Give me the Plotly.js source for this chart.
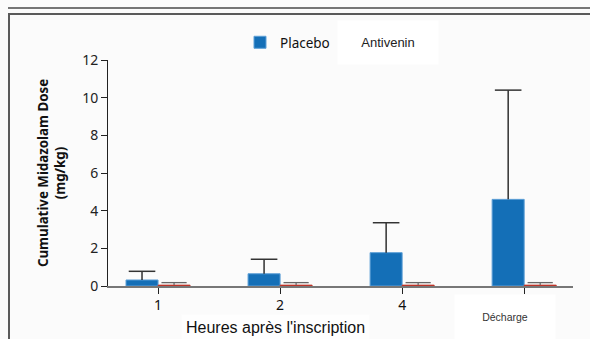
<!DOCTYPE html>
<html><head><meta charset="utf-8">
<script src="https://cdn.plot.ly/plotly-3.0.1.min.js"></script>
<style>html,body{margin:0;padding:0;background:#fbfbfb;}#c{width:590px;height:339px;}</style>
</head><body><div id="c"></div>
<script>
const categories = ["1", "2", "4", "Décharge"];
const tickLabels = ["1", "2", "4", ""];
const placebo = [0.32, 0.65, 1.77, 4.6];
const placeboErr = [0.46, 0.77, 1.59, 5.8];
const antivenin = [0.05, 0.05, 0.05, 0.05];
const antiveninErr = [0.13, 0.13, 0.13, 0.13];

const L = 108, R = 17, T = 60, B = 53, W = 590 - L - R, H = 339 - T - B;
const px = x => (x - L) / W;
const py = y => (339 - B - y) / H;

const XR = [-0.41, 3.4];
const BARGAP = 0.475;
const half = (1 - BARGAP) / 4; // offset of each bar centre from the category centre

// stems (value -> value + error) and caps, drawn on category axes shifted to each bar's centre
function stems(vals, errs) {
  const x = [], y = [];
  categories.forEach((c, i) => { x.push(c, c, null); y.push(vals[i], vals[i] + errs[i], null); });
  return {x, y};
}
const ps = stems(placebo, placeboErr), as = stems(antivenin, antiveninErr);

const traces = [
  {type: 'bar', name: 'Placebo', x: categories, y: placebo,
   marker: {color: '#146fb7', line: {color: '#5d9fd6', width: 1}}},
  {type: 'bar', name: 'Antivenin', x: categories, y: antivenin, showlegend: false,
   marker: {color: '#b8312a', line: {color: '#c0392b', width: 0.8}}},
  {type: 'scatter', mode: 'lines', xaxis: 'x2', x: ps.x, y: ps.y, showlegend: false,
   line: {color: '#111', width: 1.3}},
  {type: 'scatter', mode: 'markers', xaxis: 'x2', x: categories, y: placebo.map((v, i) => v + placeboErr[i]),
   showlegend: false, marker: {symbol: 'line-ew', size: 19, line: {color: '#333', width: 1.5}}},
  {type: 'scatter', mode: 'lines', xaxis: 'x3', x: as.x, y: as.y, showlegend: false,
   line: {color: '#666', width: 1.2}},
  {type: 'scatter', mode: 'markers', xaxis: 'x3', x: categories, y: antivenin.map((v, i) => v + antiveninErr[i]),
   showlegend: false, marker: {symbol: 'line-ew', size: 18, line: {color: '#666', width: 1.3}}}
];

const hiddenAxis = shift => ({type: 'category', overlaying: 'x', range: [XR[0] - shift, XR[1] - shift],
  categoryorder: 'array', categoryarray: categories, visible: false, showgrid: false, zeroline: false});

const layout = {
  width: 590, height: 339,
  margin: {l: L, r: R, t: T, b: B, pad: 0},
  paper_bgcolor: '#fbfbfb', plot_bgcolor: '#fbfbfb',
  barmode: 'group', bargap: BARGAP, bargroupgap: 0,
  font: {family: 'Noto Sans, sans-serif', color: '#222', size: 14},
  showlegend: true,
  legend: {orientation: 'h', x: px(240), xanchor: 'left', y: py(27), yanchor: 'top',
           bgcolor: 'rgba(0,0,0,0)', font: {size: 13.5, family: 'Noto Sans, sans-serif', color: '#111'}},
  xaxis: {type: 'category', range: XR, showline: true, linecolor: '#777', linewidth: 1.5,
          categoryorder: 'array', categoryarray: categories,
          ticks: 'outside', ticklen: 6, tickcolor: '#222', tickwidth: 1,
          tickvals: categories, ticktext: tickLabels, showgrid: false, zeroline: false,
          tickfont: {size: 14, color: '#111'}},
  xaxis2: hiddenAxis(-half),
  xaxis3: hiddenAxis(half),
  yaxis: {range: [0, 12], tickvals: [0, 2, 4, 6, 8, 10, 12], showline: true, linecolor: '#222', linewidth: 1,
          ticks: 'outside', ticklen: 6, tickcolor: '#222', showgrid: false, zeroline: false,
          tickfont: {size: 14, color: '#222'},
          title: {text: '<b>Cumulative Midazolam Dose</b><br><b>(mg/kg)</b>', standoff: 13,
                  font: {size: 13.3, color: '#111', family: 'Noto Sans, sans-serif'}}},
  shapes: [
    {type: 'line', xref: 'paper', yref: 'paper', x0: px(8), x1: px(590), y0: py(8), y1: py(8),
     line: {color: '#4a4a4a', width: 1.5}},
    {type: 'line', xref: 'paper', yref: 'paper', x0: px(8), x1: px(590), y0: py(14), y1: py(14),
     line: {color: '#5a5a5a', width: 2}},
    {type: 'line', xref: 'paper', yref: 'paper', x0: px(9), x1: px(9), y0: py(13), y1: py(339),
     line: {color: '#5a5a5a', width: 2}}
  ],
  annotations: [
    {xref: 'paper', yref: 'paper', x: px(388), y: py(42), text: 'Antivenin', showarrow: false,
     font: {family: 'Arial, Liberation Sans, sans-serif', size: 13, color: '#222'},
     bgcolor: '#ffffff', borderpad: 14, xanchor: 'center', yanchor: 'middle', width: 72},
    {xref: 'paper', yref: 'paper', x: px(505), y: py(317), text: 'Décharge', showarrow: false,
     font: {family: 'Arial, Liberation Sans, sans-serif', size: 10.5, color: '#333'},
     bgcolor: '#ffffff', borderpad: 10, width: 80, height: 24, xanchor: 'center', yanchor: 'middle'},
    {xref: 'paper', yref: 'paper', x: px(275), y: py(327), text: "Heures après l'inscription", showarrow: false,
     font: {family: 'Arial, Liberation Sans, sans-serif', size: 16, color: '#111'},
     bgcolor: '#fefefe', borderpad: 4, xanchor: 'center', yanchor: 'middle'}
  ]
};
Plotly.newPlot('c', traces, layout, {displayModeBar: false, staticPlot: true});
</script></body></html>
